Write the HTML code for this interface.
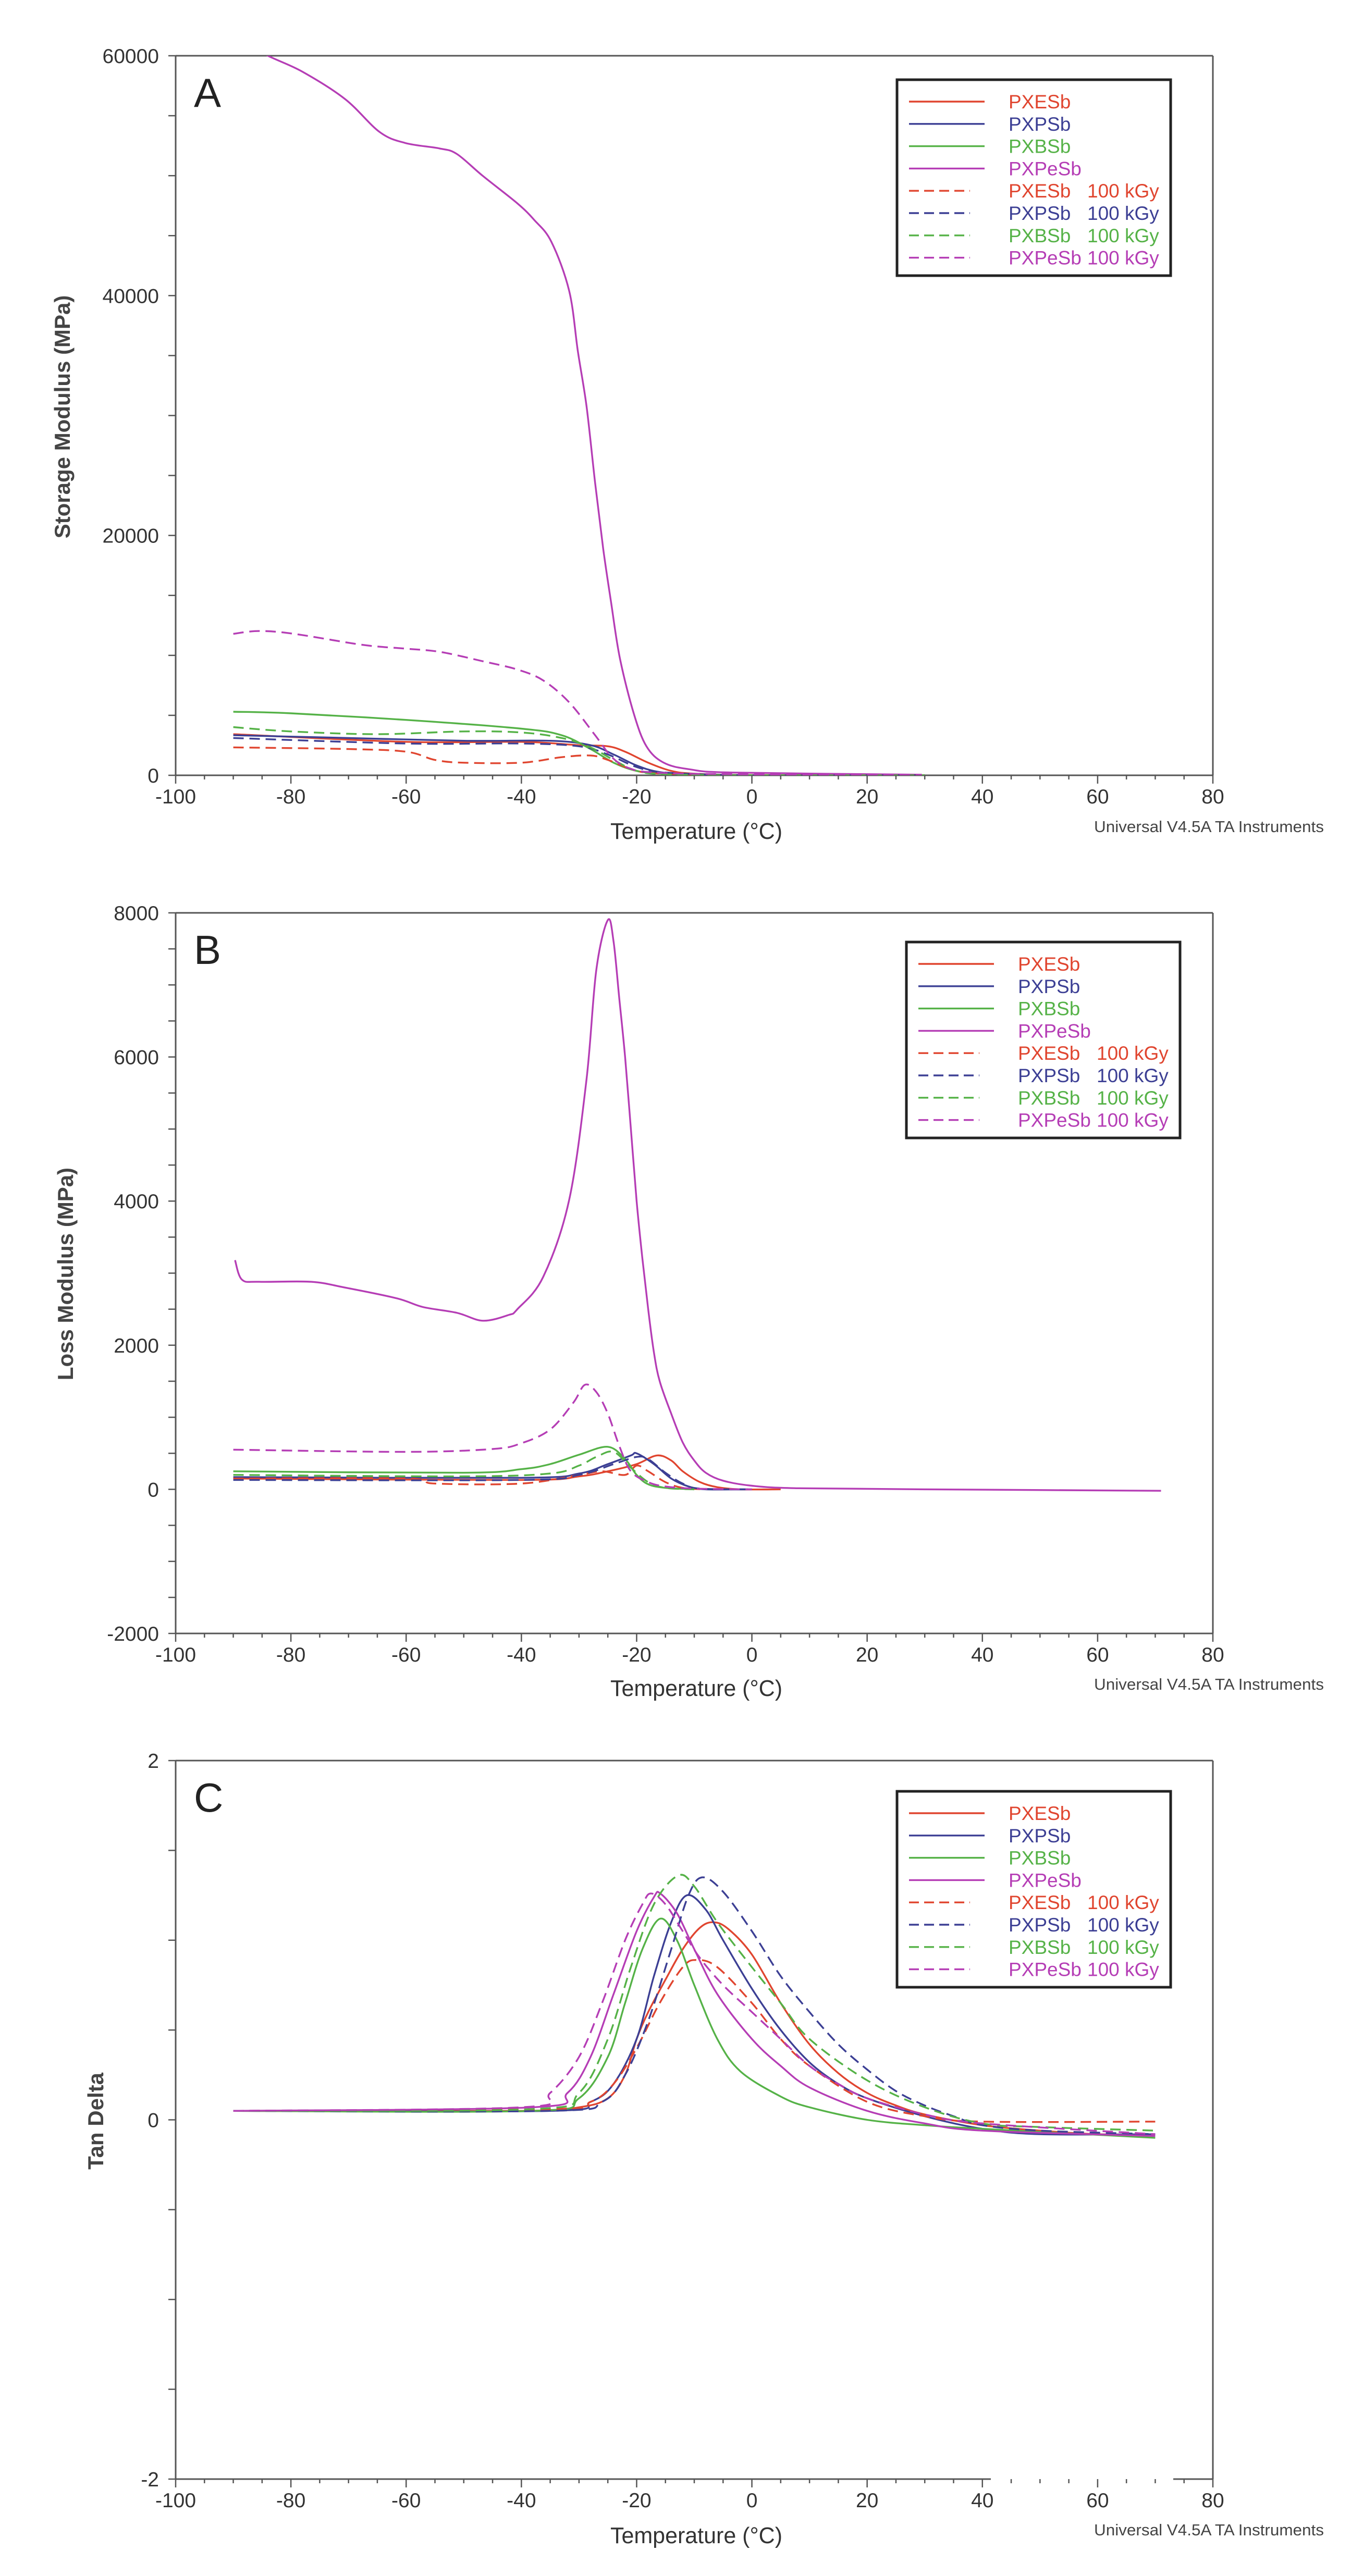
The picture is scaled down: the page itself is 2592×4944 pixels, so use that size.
<!DOCTYPE html>
<html><head><meta charset="utf-8">
<style>
html,body{margin:0;padding:0;background:#fff;}
svg{display:block;font-family:"Liberation Sans",sans-serif;}
</style></head>
<body>
<svg id="fig" width="2592" height="4944" viewBox="0 0 2592 4944" xmlns="http://www.w3.org/2000/svg">
<rect x="0" y="0" width="2592" height="4944" fill="#fff"/>
</svg>
<script>
// ---- data (temperature in °C, values) ----
const seriesNames = ["PXESb","PXPSb","PXBSb","PXPeSb","PXESb  100 kGy","PXPSb  100 kGy","PXBSb  100 kGy","PXPeSb 100 kGy"];
const lineColors = ["#e0452f","#3c3f94","#55b247","#b53db5","#e0452f","#3c3f94","#55b247","#b53db5"];

// Chart A: storage modulus (MPa)
const aT_PXESb = [-90,-60,-40,-30,-25,-22,-18,-14,-10,0,30];
const aV_PXESb = [3430,2790,2790,2510,2420,1970,1050,370,140,20,0];
const aT_PXPSb = [-90,-70,-50,-35,-28,-24,-20,-16,-10,0,30];
const aV_PXPSb = [3340,3110,2880,2880,2510,1740,820,270,90,10,0];
const aT_PXBSb = [-90,-80,-60,-40,-33,-28,-24,-20,-15,0,30];
const aV_PXBSb = [5300,5170,4620,3890,3340,2190,1050,370,140,0,0];
const aT_PXPeSb = [-90,-84,-78,-70.6,-64.6,-60.1,-54.2,-51.2,-46.7,-40.7,-37.8,-34.8,-31.7,-30.2,-28.7,-27.2,-25.8,-24.4,-22.9,-20.5,-18.3,-15.3,-10.8,-3.3,29.5];
const aV_PXPeSb = [61500,60000,58670,56390,53640,52720,52270,51810,49980,47690,46320,44490,40380,35350,30780,24370,18880,14310,9740,5160,2420,1050,500,230,50];
const aT_PXESb_d = [-90,-70,-60,-55,-50,-40,-33,-28,-25,-20,-15,0,30];
const aV_PXESb_d = [2330,2190,1970,1280,1050,1050,1510,1650,1280,370,140,0,0];
const aT_PXPSb_d = [-90,-60,-40,-30,-25,-20,-15,0,30];
const aV_PXPSb_d = [3110,2650,2650,2420,1740,690,230,0,0];
const aT_PXBSb_d = [-90,-80,-65,-50,-40,-33,-28,-24,-20,-15,0,30];
const aV_PXBSb_d = [4020,3660,3430,3660,3570,3110,2330,1280,370,90,0,0];
const aT_PXPeSb_d = [-90,-85.5,-79.5,-67.6,-60.1,-54.1,-46.7,-40.7,-36.2,-31.7,-27.2,-24.3,-21.3,-16.8,-3.3,29.5];
const aV_PXPeSb_d = [11800,12030,11800,10880,10560,10290,9510,8820,7910,6080,3340,1510,590,230,90,0];

// Chart B: loss modulus (MPa)
const bT_PXESb = [-90,-40,-30,-25,-20,-16.5,-14,-12,-9,-6,-2,5];
const bV_PXESb = [150,130,180,250,350,470,400,250,100,30,0,0];
const bT_PXPSb = [-90,-40,-30,-25,-21,-20,-17,-14,-11,-8,0];
const bV_PXPSb = [170,160,220,350,470,500,350,150,40,0,0];
const bT_PXBSb = [-90,-50,-40,-35,-30,-25,-22,-20,-18,-15,-10];
const bV_PXBSb = [250,230,280,350,480,590,420,200,70,20,0];
const bT_PXPeSb = [-89.7,-88.5,-85.5,-76.5,-70.6,-61.6,-57.1,-51.2,-46.7,-42.2,-40.7,-36.2,-31.7,-28.7,-27,-25,-24,-23,-22,-21,-20,-19,-18,-17,-16,-14,-12,-10,-8,-5,0,8,30,71];
const bV_PXPeSb = [3180,2910,2880,2880,2800,2650,2530,2450,2340,2420,2500,2950,4020,5690,7210,7900,7600,6800,6000,5000,4000,3200,2500,1900,1500,1050,650,400,230,120,50,15,0,-20];
const bT_PXESb_d = [-90,-60,-55,-40,-30,-26,-22,-20,-18,-15,-12,-8];
const bV_PXESb_d = [150,150,80,80,200,250,200,330,250,100,20,0];
const bT_PXPSb_d = [-90,-40,-30,-24,-20,-18,-15,-12,-9,0];
const bV_PXPSb_d = [130,130,200,350,450,420,230,80,10,0];
const bT_PXBSb_d = [-90,-50,-35,-30,-27,-24,-21,-18,-15,-10];
const bV_PXBSb_d = [200,180,220,330,450,520,300,100,20,0];
const bT_PXPeSb_d = [-90,-60,-45,-40,-35,-31,-29,-27,-25,-23,-21,-18,-15,-10,0];
const bV_PXPeSb_d = [550,520,560,640,830,1200,1450,1350,1050,600,250,100,40,10,0];

// Chart C: tan delta
const cT_PXESb = [-90,-40,-30,-25,-22,-20,-18,-15,-12,-9,-6.6,-4,0,5,10,15,20,25,30,40,50,60,70];
const cV_PXESb = [0.05,0.05,0.07,0.12,0.25,0.45,0.6,0.78,0.95,1.07,1.10,1.06,0.92,0.65,0.42,0.26,0.15,0.08,0.03,-0.03,-0.06,-0.08,-0.08];
const cT_PXPSb = [-90,-35,-28,-24,-20,-17,-14,-11.3,-8,-5,0,5,10,15,20,30,40,50,70];
const cV_PXPSb = [0.05,0.05,0.1,0.2,0.45,0.8,1.1,1.25,1.17,1.0,0.73,0.5,0.32,0.2,0.12,0.02,-0.05,-0.08,-0.08];
const cT_PXBSb = [-90,-38,-30,-25,-22,-19,-15.9,-13,-10,-6,-2,5,10,20,30,40,70];
const cV_PXBSb = [0.05,0.05,0.12,0.35,0.65,0.95,1.12,1.0,0.75,0.45,0.27,0.13,0.07,0.0,-0.03,-0.05,-0.1];
const cT_PXPeSb = [-90,-38,-32,-28,-24,-20,-17,-15.9,-13,-10,-6,0,5,10,20,30,40,70];
const cV_PXPeSb = [0.05,0.07,0.15,0.35,0.7,1.05,1.24,1.26,1.15,0.95,0.7,0.45,0.3,0.18,0.05,-0.02,-0.06,-0.09];
const cT_PXESb_d = [-90,-35,-28,-24,-20,-16,-12,-9.6,-6,0,5,10,20,30,40,70];
const cV_PXESb_d = [0.05,0.06,0.1,0.2,0.4,0.65,0.85,0.89,0.85,0.65,0.45,0.3,0.1,0.02,-0.01,-0.01];
const cT_PXPSb_d = [-90,-35,-26,-22,-18,-14,-11,-8.6,-5,0,5,10,15,20,25,30,35,40,50,70];
const cV_PXPSb_d = [0.05,0.05,0.1,0.25,0.55,0.95,1.25,1.35,1.27,1.05,0.8,0.6,0.42,0.28,0.16,0.08,0.02,-0.03,-0.06,-0.08];
const cT_PXBSb_d = [-90,-38,-30,-25,-21,-17,-12.8,-10,-6,0,5,10,20,30,40,50,70];
const cV_PXBSb_d = [0.05,0.06,0.15,0.45,0.85,1.2,1.36,1.3,1.1,0.85,0.65,0.45,0.22,0.07,-0.02,-0.04,-0.06];
const cT_PXPeSb_d = [-90,-40,-35,-30,-26,-22,-19,-17.5,-15,-12,-9,-5,0,5,10,15,20,30,40,70];
const cV_PXPeSb_d = [0.05,0.07,0.15,0.35,0.65,1.0,1.2,1.26,1.2,1.05,0.9,0.75,0.6,0.45,0.3,0.2,0.12,0.03,-0.02,-0.08];

const xTicks = [-100,-80,-60,-40,-20,0,20,40,60,80];
const aTicks = [0,20000,40000,60000];
const bTicks = [-2000,0,2000,4000,6000,8000];
const cTicks = [-2,0,2];

const NS = "http://www.w3.org/2000/svg";
const svg = document.getElementById("fig");
function el(tag, attrs, parent){ const e=document.createElementNS(NS,tag); for(const k in attrs) e.setAttribute(k,attrs[k]); (parent||svg).appendChild(e); return e; }

function smoothPath(pts){
  let d="M"+pts[0][0].toFixed(1)+","+pts[0][1].toFixed(1);
  for(let i=0;i<pts.length-1;i++){
    const p0=pts[Math.max(0,i-1)],p1=pts[i],p2=pts[i+1],p3=pts[Math.min(pts.length-1,i+2)];
    const k=1/6;
    const c1=[p1[0]+(p2[0]-p0[0])*k,p1[1]+(p2[1]-p0[1])*k];
    const c2=[p2[0]-(p3[0]-p1[0])*k,p2[1]-(p3[1]-p1[1])*k];
    d+="C"+c1[0].toFixed(1)+","+c1[1].toFixed(1)+" "+c2[0].toFixed(1)+","+c2[1].toFixed(1)+" "+p2[0].toFixed(1)+","+p2[1].toFixed(1);
  }
  return d;
}

function drawChart(cfg){
  const g = el("g",{});
  
  
  const L=337,R=2327,T=cfg.top,B=cfg.bottom;
  const xs = t => L + (t+100)/180*(R-L);
  const ys = v => B - (v-cfg.ymin)/(cfg.ymax-cfg.ymin)*(B-T);
  const cid = cfg.name+"-clip";
  const defs = el("defs",{},g);
  const cp = el("clipPath",{id:cid},defs);
  el("rect",{x:L,y:T,width:R-L,height:B-T},cp);
  const frame = el("g",{stroke:"#555","stroke-width":3,fill:"none"},g);
  
  
  el("line",{x1:L,y1:T,x2:R,y2:T},frame);
  el("line",{x1:L,y1:T,x2:L,y2:B},frame);
  el("line",{x1:R,y1:T,x2:R,y2:B},frame);
  if(cfg.broken){
    el("line",{x1:L,y1:B,x2:1901,y2:B},frame);
    el("line",{x1:2251,y1:B,x2:R,y2:B},frame);
  } else el("line",{x1:L,y1:B,x2:R,y2:B},frame);
  for(let t=-100;t<=80;t+=5){
    const major = t%20===0;
    el("line",{x1:xs(t),y1:B,x2:xs(t),y2:B+(major?16:8),stroke:"#555","stroke-width":2.5},g);
  }
  xTicks.forEach(t=>{
    const tx=el("text",{x:xs(t),y:B+54,"text-anchor":"middle","font-size":39,fill:"#333"},g);
    tx.textContent=t;
    
    
  });
  for(let v=cfg.ymin; v<=cfg.ymax+1e-9; v+=cfg.minor){
    el("line",{x1:L-14,y1:ys(v),x2:L,y2:ys(v),stroke:"#555","stroke-width":2.5},g);
  }
  cfg.ticks.forEach(v=>{
    const tx=el("text",{x:L-32,y:ys(v)+14,"text-anchor":"end","font-size":39,fill:"#333"},g);
    tx.textContent=v;
    
    
  });
  const yt=el("text",{x:0,y:0,transform:`translate(${cfg.ytx},${cfg.yty}) rotate(-90)`,"text-anchor":"middle","font-size":42,"font-weight":"bold",fill:"#444"},g);
  yt.textContent=cfg.ytitle;
  
  
  const xt=el("text",{x:1336,y:cfg.xty,"text-anchor":"middle","font-size":44,fill:"#333",textLength:330,lengthAdjust:"spacingAndGlyphs"},g);
  xt.textContent="Temperature (°C)";
  
  
  const ut=el("text",{x:2099,y:cfg.uty,"font-size":31,fill:"#444",textLength:441,lengthAdjust:"spacingAndGlyphs"},g);
  ut.textContent="Universal V4.5A TA Instruments";
  
  
  const pl=el("text",{x:372,y:T+98,"font-size":78,fill:"#222"},g);
  pl.textContent=cfg.letter;
  
  
  const sg = el("g",{"clip-path":`url(#${cid})`,fill:"none","stroke-width":3.4,"stroke-linejoin":"round"},g);
  cfg.series.forEach((s,i)=>{
    const [ts,vs]=s;
    const pts = ts.map((t,j)=>[xs(t),ys(vs[j])]);
    const p=el("path",{d:smoothPath(pts),stroke:lineColors[i]},sg);
    if(i>=4) p.setAttribute("stroke-dasharray","20 11");
    
    
  });
  const lg = el("g",{},g);
  
  
  el("rect",{x:cfg.lx,y:cfg.ly,width:525,height:376,fill:"#fff",stroke:"#222","stroke-width":5},lg);
  for(let i=0;i<8;i++){
    const y=cfg.ly+42+i*42.8;
    const ln=el("line",{x1:cfg.lx+23,y1:y,x2:cfg.lx+(i<4?168:140),y2:y,stroke:lineColors[i],"stroke-width":3.4},lg);
    if(i>=4) ln.setAttribute("stroke-dasharray","19 10");
    
    
    const parts = seriesNames[i].split(/\s+(?=100)/);
    const t1=el("text",{x:cfg.lx+214,y:y+13,"font-size":37,fill:lineColors[i]},lg);
    t1.textContent=parts[0];
    
    
    if(parts[1]){
      const t2=el("text",{x:cfg.lx+365,y:y+13,"font-size":37,fill:lineColors[i]},lg);
      t2.textContent=parts[1];
      
      
    }
  }
}

drawChart({name:"chart-a-storage-modulus",letter:"A",top:107,bottom:1488,ymin:0,ymax:60000,minor:5000,ticks:aTicks,
  ytitle:"Storage Modulus (MPa)",ytx:134,yty:800,xty:1610,uty:1597,lx:1721,ly:153,
  series:[[aT_PXESb,aV_PXESb],[aT_PXPSb,aV_PXPSb],[aT_PXBSb,aV_PXBSb],[aT_PXPeSb,aV_PXPeSb],
          [aT_PXESb_d,aV_PXESb_d],[aT_PXPSb_d,aV_PXPSb_d],[aT_PXBSb_d,aV_PXBSb_d],[aT_PXPeSb_d,aV_PXPeSb_d]]});
drawChart({name:"chart-b-loss-modulus",letter:"B",top:1752,bottom:3135,ymin:-2000,ymax:8000,minor:500,ticks:bTicks,
  ytitle:"Loss Modulus (MPa)",ytx:140,yty:2445,xty:3255,uty:3243,lx:1739,ly:1808,
  series:[[bT_PXESb,bV_PXESb],[bT_PXPSb,bV_PXPSb],[bT_PXBSb,bV_PXBSb],[bT_PXPeSb,bV_PXPeSb],
          [bT_PXESb_d,bV_PXESb_d],[bT_PXPSb_d,bV_PXPSb_d],[bT_PXBSb_d,bV_PXBSb_d],[bT_PXPeSb_d,bV_PXPeSb_d]]});
drawChart({name:"chart-c-tan-delta",letter:"C",top:3379,bottom:4758,ymin:-2,ymax:2,minor:0.5,ticks:cTicks,broken:true,
  ytitle:"Tan Delta",ytx:198,yty:4071,xty:4881,uty:4866,lx:1721,ly:3438,
  series:[[cT_PXESb,cV_PXESb],[cT_PXPSb,cV_PXPSb],[cT_PXBSb,cV_PXBSb],[cT_PXPeSb,cV_PXPeSb],
          [cT_PXESb_d,cV_PXESb_d],[cT_PXPSb_d,cV_PXPSb_d],[cT_PXBSb_d,cV_PXBSb_d],[cT_PXPeSb_d,cV_PXPeSb_d]]});
</script>
</body></html>
